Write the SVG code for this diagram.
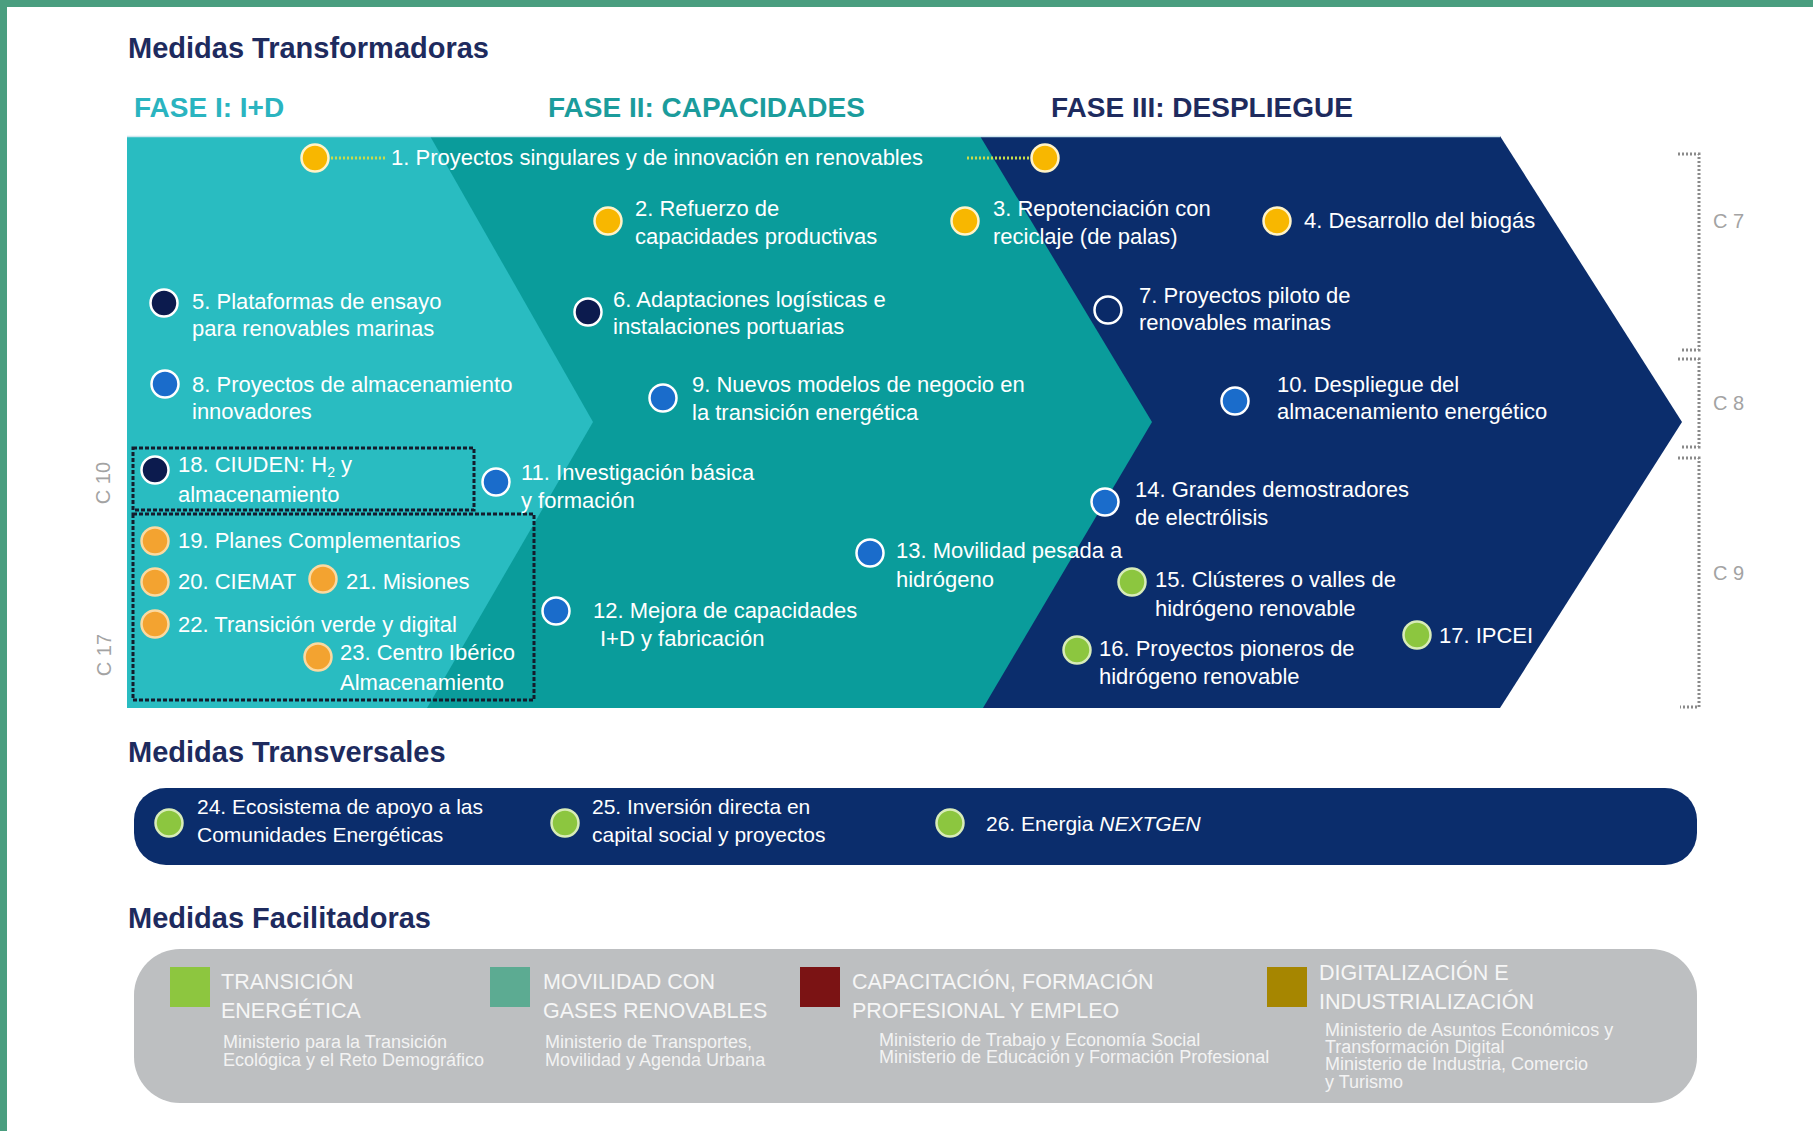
<svg xmlns="http://www.w3.org/2000/svg" width="1813" height="1131" viewBox="0 0 1813 1131">
<style>
.bg{fill:#ffffff}
.h1{font-family:"Liberation Sans",Arial,sans-serif;font-weight:bold;font-size:29px;fill:#1e2b5e}
.ph{font-family:"Liberation Sans",Arial,sans-serif;font-weight:bold;font-size:28px}
.t{font-family:"Liberation Sans",Arial,sans-serif;font-size:22px;fill:#ffffff}
.tt{font-family:"Liberation Sans",Arial,sans-serif;font-size:21px;fill:#ffffff}
.lg{font-family:"Liberation Sans",Arial,sans-serif;font-size:21.5px;fill:#f6f6f6}
.mn{font-family:"Liberation Sans",Arial,sans-serif;font-size:18px;fill:#f3f3f3}
.cl{font-family:"Liberation Sans",Arial,sans-serif;font-size:20px;fill:#a3a3a3}
.y{fill:#f8b700;stroke:#fff3c8;stroke-width:2.5}
.o{fill:#f3a330;stroke:#fbd9a0;stroke-width:2.5}
.d{fill:#0c1b4e;stroke:#ffffff;stroke-width:2.5}
.r{fill:#0a2a68;stroke:#ffffff;stroke-width:2.5}
.b{fill:#1a6ccb;stroke:#ffffff;stroke-width:2.5}
.g{fill:#8cc63f;stroke:#d8ecb8;stroke-width:2.5}
.box{fill:none;stroke:#141c2c;stroke-width:3;stroke-dasharray:4 2}
.dl{stroke:#c9dc4c;stroke-width:3;stroke-dasharray:2 2}
.br{fill:none;stroke:#8a8a8a;stroke-width:3;stroke-dasharray:2 2}
</style>
<rect class="bg" x="0" y="0" width="1813" height="1131"/>
<rect x="0" y="0" width="1813" height="7" fill="#4a9e7f"/>
<rect x="0" y="0" width="7" height="1131" fill="#4a9e7f"/>

<g id="titles">
<text class="h1" x="128" y="58">Medidas Transformadoras</text>
<text class="ph" x="134" y="117" fill="#2ab4c0">FASE I: I+D</text>
<text class="ph" x="548" y="117" fill="#1b9c9c">FASE II: CAPACIDADES</text>
<text class="ph" x="1051" y="117" fill="#1e2b5e">FASE III: DESPLIEGUE</text>
<text class="h1" x="128" y="762">Medidas Transversales</text>
<text class="h1" x="128" y="928">Medidas Facilitadoras</text>
</g>

<g id="band">
<polygon points="127,136 1500,136 1682,422 1500,708 127,708" fill="#0b2d6c"/>
<polygon points="127,136 980,136 1152,422 983,708 127,708" fill="#0a9c9b"/>
<polygon points="127,136 430,136 593,422 427,708 127,708" fill="#29bcc1"/>
<line x1="127" y1="136.5" x2="1500" y2="136.5" stroke="#cfe6ee" stroke-width="1.5"/>
</g>

<g id="boxes">
<rect class="box" x="133" y="448" width="341" height="62"/>
<rect class="box" x="133" y="514" width="401" height="186"/>
</g>

<g id="connectors">
<line class="dl" x1="331" y1="158" x2="386" y2="158"/>
<line class="dl" x1="967" y1="158" x2="1029" y2="158"/>
</g>

<g id="m1"><circle class="y" cx="315" cy="158" r="13.5"/><circle class="y" cx="1045" cy="158" r="13.5"/><text class="t" x="391" y="165">1. Proyectos singulares y de innovación en renovables</text></g>
<g id="m2"><circle class="y" cx="608" cy="221" r="13.5"/><text class="t" x="635" y="216">2. Refuerzo de</text><text class="t" x="635" y="244">capacidades productivas</text></g>
<g id="m3"><circle class="y" cx="965" cy="221" r="13.5"/><text class="t" x="993" y="216">3. Repotenciación con</text><text class="t" x="993" y="244">reciclaje (de palas)</text></g>
<g id="m4"><circle class="y" cx="1277" cy="221" r="13.5"/><text class="t" x="1304" y="228">4. Desarrollo del biogás</text></g>
<g id="m5"><circle class="d" cx="164" cy="303" r="13.5"/><text class="t" x="192" y="309">5. Plataformas de ensayo</text><text class="t" x="192" y="336">para renovables marinas</text></g>
<g id="m6"><circle class="d" cx="588" cy="312" r="13.5"/><text class="t" x="613" y="307">6. Adaptaciones logísticas e</text><text class="t" x="613" y="334">instalaciones portuarias</text></g>
<g id="m7"><circle class="r" cx="1108" cy="310" r="13.5"/><text class="t" x="1139" y="303">7. Proyectos piloto de</text><text class="t" x="1139" y="330">renovables marinas</text></g>
<g id="m8"><circle class="b" cx="165" cy="384" r="13.5"/><text class="t" x="192" y="392">8. Proyectos de almacenamiento</text><text class="t" x="192" y="419">innovadores</text></g>
<g id="m9"><circle class="b" cx="663" cy="398" r="13.5"/><text class="t" x="692" y="392">9. Nuevos modelos de negocio en</text><text class="t" x="692" y="420">la transición energética</text></g>
<g id="m10"><circle class="b" cx="1235" cy="401" r="13.5"/><text class="t" x="1277" y="392">10. Despliegue del</text><text class="t" x="1277" y="419">almacenamiento energético</text></g>
<g id="m11"><circle class="b" cx="496" cy="482" r="13.5"/><text class="t" x="521" y="480">11. Investigación básica</text><text class="t" x="521" y="508">y formación</text></g>
<g id="m12"><circle class="b" cx="556" cy="611" r="13.5"/><text class="t" x="593" y="618">12. Mejora de capacidades</text><text class="t" x="600" y="646">I+D y fabricación</text></g>
<g id="m13"><circle class="b" cx="870" cy="553" r="13.5"/><text class="t" x="896" y="558">13. Movilidad pesada a</text><text class="t" x="896" y="587">hidrógeno</text></g>
<g id="m14"><circle class="b" cx="1105" cy="502" r="13.5"/><text class="t" x="1135" y="497">14. Grandes demostradores</text><text class="t" x="1135" y="525">de electrólisis</text></g>
<g id="m15"><circle class="g" cx="1132" cy="582" r="13.5"/><text class="t" x="1155" y="587">15. Clústeres o valles de</text><text class="t" x="1155" y="616">hidrógeno renovable</text></g>
<g id="m16"><circle class="g" cx="1077" cy="650" r="13.5"/><text class="t" x="1099" y="656">16. Proyectos pioneros de</text><text class="t" x="1099" y="684">hidrógeno renovable</text></g>
<g id="m17"><circle class="g" cx="1417" cy="635" r="13.5"/><text class="t" x="1439" y="643">17. IPCEI</text></g>
<g id="m18"><circle class="d" cx="155" cy="470" r="13.5"/><text class="t" x="178" y="472">18. CIUDEN: H<tspan font-size="14" dy="5">2</tspan><tspan dy="-5"> y</tspan></text><text class="t" x="178" y="502">almacenamiento</text></g>
<g id="m19"><circle class="o" cx="155" cy="541" r="13.5"/><text class="t" x="178" y="548">19. Planes Complementarios</text></g>
<g id="m20"><circle class="o" cx="155" cy="582" r="13.5"/><text class="t" x="178" y="589">20. CIEMAT</text></g>
<g id="m21"><circle class="o" cx="323" cy="579" r="13.5"/><text class="t" x="346" y="589">21. Misiones</text></g>
<g id="m22"><circle class="o" cx="155" cy="624" r="13.5"/><text class="t" x="178" y="632">22. Transición verde y digital</text></g>
<g id="m23"><circle class="o" cx="318" cy="657" r="13.5"/><text class="t" x="340" y="660">23. Centro Ibérico</text><text class="t" x="340" y="690">Almacenamiento</text></g>

<g id="component-labels">
<text class="cl" transform="translate(110,483) rotate(-90)" text-anchor="middle">C 10</text>
<text class="cl" transform="translate(111,655) rotate(-90)" text-anchor="middle">C 17</text>
<path class="br" d="M1678,154 H1699 V350 H1680"/>
<path class="br" d="M1678,359 H1699 V447 H1680"/>
<path class="br" d="M1678,458 H1699 V707 H1680"/>
<text class="cl" x="1713" y="228">C 7</text>
<text class="cl" x="1713" y="410">C 8</text>
<text class="cl" x="1713" y="580">C 9</text>
</g>

<g id="transversales">
<rect x="134" y="788" width="1563" height="77" rx="32" fill="#0b2d6c"/>
<g id="m24"><circle class="g" cx="169" cy="823" r="13.5"/><text class="tt" x="197" y="814">24. Ecosistema de apoyo a las</text><text class="tt" x="197" y="842">Comunidades Energéticas</text></g>
<g id="m25"><circle class="g" cx="565" cy="823" r="13.5"/><text class="tt" x="592" y="814">25. Inversión directa en</text><text class="tt" x="592" y="842">capital social y proyectos</text></g>
<g id="m26"><circle class="g" cx="950" cy="823" r="13.5"/><text class="tt" x="986" y="831">26. Energia <tspan font-style="italic">NEXTGEN</tspan></text></g>
</g>

<g id="facilitadoras">
<rect x="134" y="949" width="1563" height="154" rx="46" fill="#bdbfc1"/>
<g id="f1"><rect x="170" y="967" width="40" height="40" fill="#8dc63f"/><text class="lg" x="221" y="989">TRANSICIÓN</text><text class="lg" x="221" y="1018">ENERGÉTICA</text><text class="mn" x="223" y="1048">Ministerio para la Transición</text><text class="mn" x="223" y="1066">Ecológica y el Reto Demográfico</text></g>
<g id="f2"><rect x="490" y="967" width="40" height="40" fill="#5cab92"/><text class="lg" x="543" y="989">MOVILIDAD CON</text><text class="lg" x="543" y="1018">GASES RENOVABLES</text><text class="mn" x="545" y="1048">Ministerio de Transportes,</text><text class="mn" x="545" y="1066">Movilidad  y Agenda Urbana</text></g>
<g id="f3"><rect x="800" y="967" width="40" height="40" fill="#7b1314"/><text class="lg" x="852" y="989">CAPACITACIÓN, FORMACIÓN</text><text class="lg" x="852" y="1018">PROFESIONAL Y EMPLEO</text><text class="mn" x="879" y="1046">Ministerio de Trabajo y Economía Social</text><text class="mn" x="879" y="1063">Ministerio de Educación y Formación Profesional</text></g>
<g id="f4"><rect x="1267" y="967" width="40" height="40" fill="#a68600"/><text class="lg" x="1319" y="980">DIGITALIZACIÓN E</text><text class="lg" x="1319" y="1009">INDUSTRIALIZACIÓN</text><text class="mn" x="1325" y="1036">Ministerio de Asuntos Económicos y</text><text class="mn" x="1325" y="1053">Transformación Digital</text><text class="mn" x="1325" y="1070">Ministerio de Industria, Comercio</text><text class="mn" x="1325" y="1088">y Turismo</text></g>
</g>
</svg>
